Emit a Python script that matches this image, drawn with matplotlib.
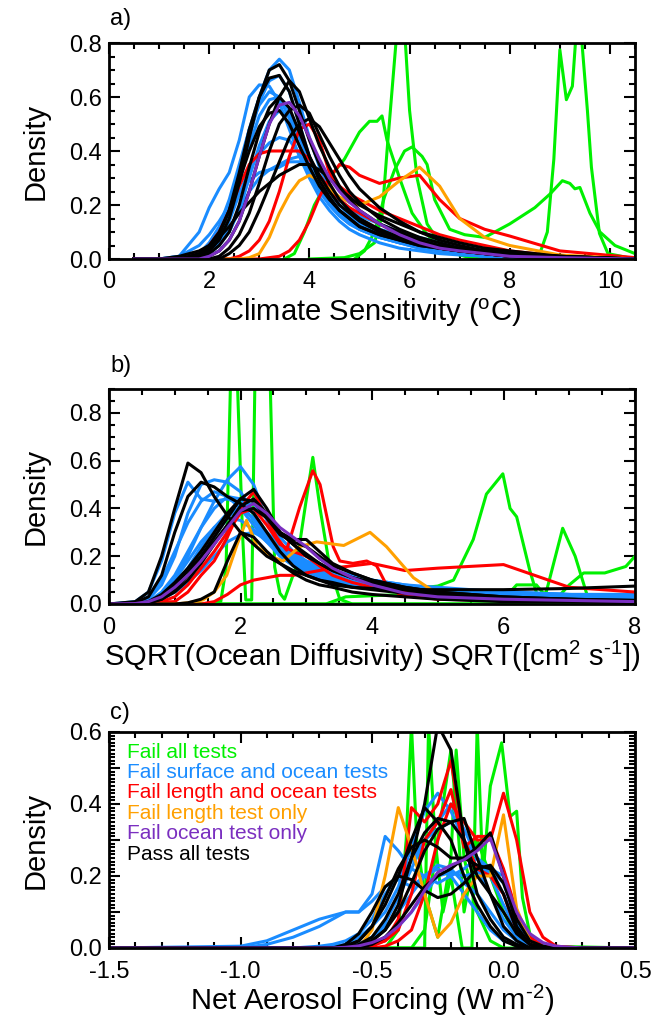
import matplotlib
matplotlib.use("Agg")
import matplotlib.pyplot as plt
from matplotlib.ticker import MultipleLocator, FuncFormatter

plt.rcParams['font.family'] = ['Liberation Sans', 'DejaVu Sans']
plt.rcParams['mathtext.fontset'] = 'custom'
plt.rcParams['mathtext.rm'] = 'Liberation Sans'
plt.rcParams['mathtext.it'] = 'Liberation Sans'
plt.rcParams['axes.unicode_minus'] = False

C_GREEN = '#00f000'
C_BLUE = '#1a8cff'
C_RED = '#ff0000'
C_ORANGE = '#ffa000'
C_PURPLE = '#7a2fc0'
C_BLACK = '#000000'

legend_labels = ['Fail all tests', 'Fail surface and ocean tests', 'Fail length and ocean tests',
                 'Fail length test only', 'Fail ocean test only', 'Pass all tests']

# ---------------- Panel a: Climate sensitivity ----------------
a_x = [0.5, 1.0, 1.4, 1.8, 2.0, 2.2, 2.4, 2.6, 2.8, 3.0, 3.2, 3.4, 3.6, 3.8, 4.0, 4.2, 4.4,
       4.6, 4.8, 5.0, 5.4, 5.8, 6.2, 6.6, 7.0, 7.5, 8.0, 9.0, 10.5]

a_green_x = [
    [3.5, 3.7, 3.9, 4.1, 4.4, 4.7, 5.0, 5.2, 5.35, 5.45, 5.55, 5.8, 6.05, 6.35, 6.7, 7.2, 10.5],
    [4.0, 4.7, 5.0, 5.3, 5.45, 5.55, 5.75, 5.9, 6.0, 6.15, 6.35, 6.6, 7.0, 7.5, 10.5],
    [4.9, 5.1, 5.3, 5.5, 5.7, 5.9, 6.05, 6.25, 6.35, 6.5, 6.8, 7.1, 7.5, 8.0, 8.5, 8.8,
     9.05, 9.2, 9.3, 9.4, 9.6, 9.8, 10.1, 10.5],
    [8.4, 8.6, 8.75, 8.88, 9.0, 9.13, 9.25, 9.33, 9.42, 9.55, 9.63, 9.79, 9.96, 10.5],
]
a_green_y = [
    [0.0, 0.02, 0.1, 0.2, 0.3, 0.37, 0.47, 0.51, 0.51, 0.53, 0.44, 0.3, 0.17, 0.09, 0.03, 0.005, 0.0],
    [0.0, 0.005, 0.02, 0.06, 0.16, 0.4, 0.85, 0.85, 0.55, 0.3, 0.13, 0.06, 0.02, 0.005, 0.0],
    [0.0, 0.03, 0.1, 0.23, 0.33, 0.4, 0.415, 0.38, 0.35, 0.22, 0.11, 0.09, 0.08, 0.13, 0.19, 0.24,
     0.29, 0.28, 0.26, 0.265, 0.17, 0.1, 0.05, 0.02],
    [0.0, 0.02, 0.1, 0.37, 0.775, 0.59, 0.64, 0.85, 0.85, 0.55, 0.34, 0.095, 0.02, 0.0],
]
a_blue = [
    [0, 0, 0.01, 0.1, 0.19, 0.26, 0.32, 0.44, 0.6, 0.645, 0.64, 0.58, 0.48, 0.38, 0.3, 0.23, 0.18, 0.14, 0.11, 0.09, 0.06, 0.04, 0.03, 0.02, 0.015, 0.01, 0.005, 0, 0],
    [0, 0, 0, 0.02, 0.05, 0.1, 0.2, 0.33, 0.48, 0.6, 0.7, 0.74, 0.7, 0.58, 0.45, 0.34, 0.26, 0.2, 0.16, 0.13, 0.09, 0.06, 0.04, 0.03, 0.02, 0.01, 0.005, 0, 0],
    [0, 0, 0, 0.01, 0.04, 0.09, 0.18, 0.3, 0.45, 0.58, 0.66, 0.68, 0.62, 0.5, 0.38, 0.29, 0.22, 0.17, 0.14, 0.11, 0.08, 0.06, 0.04, 0.03, 0.02, 0.01, 0.005, 0, 0],
    [0, 0, 0, 0.02, 0.06, 0.12, 0.22, 0.35, 0.48, 0.57, 0.62, 0.6, 0.52, 0.42, 0.33, 0.26, 0.2, 0.16, 0.13, 0.11, 0.08, 0.06, 0.05, 0.04, 0.03, 0.02, 0.01, 0.005, 0],
    [0, 0, 0, 0.01, 0.03, 0.07, 0.14, 0.24, 0.33, 0.39, 0.43, 0.45, 0.44, 0.39, 0.32, 0.25, 0.2, 0.16, 0.13, 0.11, 0.08, 0.06, 0.05, 0.04, 0.03, 0.02, 0.01, 0.005, 0],
    [0, 0, 0, 0.01, 0.03, 0.06, 0.11, 0.18, 0.25, 0.3, 0.33, 0.35, 0.37, 0.38, 0.35, 0.3, 0.25, 0.2, 0.17, 0.14, 0.11, 0.09, 0.07, 0.05, 0.04, 0.03, 0.02, 0.01, 0],
    [0, 0, 0, 0.01, 0.03, 0.08, 0.16, 0.28, 0.42, 0.53, 0.59, 0.6, 0.55, 0.46, 0.37, 0.29, 0.23, 0.18, 0.15, 0.12, 0.09, 0.07, 0.05, 0.04, 0.03, 0.02, 0.01, 0.005, 0],
    [0, 0, 0.01, 0.05, 0.09, 0.14, 0.2, 0.25, 0.29, 0.32, 0.33, 0.34, 0.36, 0.36, 0.34, 0.3, 0.26, 0.22, 0.19, 0.16, 0.13, 0.1, 0.08, 0.06, 0.04, 0.03, 0.02, 0.01, 0],
    [0, 0, 0, 0, 0.02, 0.05, 0.1, 0.18, 0.3, 0.42, 0.51, 0.55, 0.53, 0.45, 0.36, 0.28, 0.22, 0.18, 0.15, 0.13, 0.1, 0.08, 0.07, 0.05, 0.04, 0.03, 0.02, 0.01, 0],
]
a_red = [
    [0, 0, 0, 0.02, 0.05, 0.1, 0.18, 0.27, 0.35, 0.39, 0.4, 0.4, 0.4, 0.4, 0.37, 0.31, 0.26, 0.22, 0.19, 0.17, 0.13, 0.09, 0.06, 0.04, 0.03, 0.02, 0.01, 0, 0],
    [0, 0, 0, 0, 0, 0, 0, 0.01, 0.03, 0.07, 0.14, 0.25, 0.38, 0.48, 0.5, 0.44, 0.32, 0.27, 0.24, 0.22, 0.18, 0.15, 0.12, 0.09, 0.07, 0.05, 0.03, 0.01, 0],
    [0, 0, 0, 0, 0, 0, 0, 0, 0, 0, 0.005, 0.01, 0.03, 0.07, 0.14, 0.23, 0.3, 0.35, 0.34, 0.31, 0.28, 0.3, 0.31, 0.22, 0.15, 0.11, 0.085, 0.03, 0.005],
]
a_orange = [
    [0, 0, 0, 0, 0, 0, 0, 0, 0.005, 0.02, 0.08, 0.17, 0.24, 0.29, 0.31, 0.29, 0.26, 0.23, 0.21, 0.2, 0.23, 0.29, 0.34, 0.27, 0.15, 0.08, 0.05, 0.015, 0],
]
a_black = [
    [0, 0, 0, 0.01, 0.03, 0.07, 0.15, 0.28, 0.45, 0.6, 0.7, 0.72, 0.66, 0.55, 0.44, 0.35, 0.28, 0.22, 0.18, 0.15, 0.11, 0.08, 0.06, 0.04, 0.03, 0.02, 0.01, 0, 0],
    [0, 0, 0, 0.01, 0.04, 0.09, 0.18, 0.32, 0.48, 0.6, 0.67, 0.68, 0.62, 0.5, 0.38, 0.29, 0.23, 0.18, 0.15, 0.12, 0.09, 0.07, 0.05, 0.04, 0.03, 0.02, 0.01, 0, 0],
    [0, 0, 0, 0, 0.01, 0.03, 0.07, 0.14, 0.25, 0.38, 0.5, 0.6, 0.66, 0.62, 0.52, 0.42, 0.34, 0.27, 0.22, 0.18, 0.13, 0.1, 0.07, 0.05, 0.04, 0.03, 0.02, 0.01, 0],
    [0, 0, 0, 0, 0, 0.01, 0.04, 0.09, 0.17, 0.28, 0.4, 0.5, 0.55, 0.57, 0.54, 0.46, 0.38, 0.31, 0.25, 0.21, 0.15, 0.11, 0.08, 0.06, 0.04, 0.03, 0.02, 0.01, 0],
    [0, 0, 0, 0.01, 0.02, 0.05, 0.1, 0.2, 0.34, 0.47, 0.56, 0.6, 0.56, 0.47, 0.38, 0.31, 0.25, 0.2, 0.17, 0.14, 0.1, 0.08, 0.06, 0.04, 0.03, 0.02, 0.01, 0, 0],
    [0, 0, 0.01, 0.03, 0.05, 0.08, 0.12, 0.17, 0.21, 0.25, 0.28, 0.31, 0.33, 0.35, 0.35, 0.33, 0.3, 0.26, 0.23, 0.2, 0.16, 0.13, 0.1, 0.08, 0.06, 0.04, 0.03, 0.01, 0],
    [0, 0, 0, 0.02, 0.05, 0.1, 0.18, 0.29, 0.4, 0.49, 0.54, 0.55, 0.5, 0.42, 0.34, 0.27, 0.22, 0.18, 0.15, 0.12, 0.09, 0.07, 0.05, 0.04, 0.03, 0.02, 0.01, 0, 0],
    [0, 0, 0, 0, 0, 0, 0.02, 0.05, 0.1, 0.18, 0.27, 0.36, 0.45, 0.5, 0.52, 0.49, 0.43, 0.37, 0.31, 0.26, 0.19, 0.14, 0.1, 0.07, 0.05, 0.03, 0.02, 0.01, 0],
]
a_purple = [
    [0, 0, 0, 0, 0.01, 0.03, 0.07, 0.14, 0.25, 0.38, 0.5, 0.57, 0.58, 0.53, 0.45, 0.37, 0.3, 0.25, 0.21, 0.18, 0.13, 0.09, 0.06, 0.04, 0.03, 0.02, 0.01, 0.005, 0],
]

# ---------------- Panel b: ocean diffusivity ----------------
b_x = [0, 0.4, 0.6, 0.8, 1.0, 1.2, 1.4, 1.6, 1.8, 2.0, 2.2, 2.4, 2.6, 2.8, 3.0, 3.2, 3.4,
       3.7, 4.0, 4.5, 5.0, 6.0, 7.0, 8.0]

b_green_x = [
    [0, 1.5, 1.7, 1.78, 1.85, 1.95, 2.03, 2.08, 2.17, 2.22, 2.3, 2.34, 2.45, 2.52, 2.6, 2.67,
     2.85, 2.98, 3.1, 3.21, 3.36, 3.51, 3.7, 8.0],
    [0, 3.3, 3.6, 4.5, 4.83, 5.0, 5.24, 5.54, 5.74, 5.99, 6.1, 6.2, 6.4, 6.52, 6.65, 6.9, 7.09,
     7.28, 7.5, 8.0],
    [0, 5.9, 6.1, 6.2, 6.5, 6.65, 6.8, 7.0, 7.22, 7.54, 7.86, 8.0],
]
b_green_y = [
    [0, 0, 0.01, 0.15, 0.95, 0.95, 0.3, 0.017, 0.017, 0.95, 0.95, 0.95, 0.95, 0.155, 0.045, 0.02,
     0.16, 0.4, 0.614, 0.4, 0.15, 0.02, 0.0, 0.0],
    [0, 0, 0.03, 0.04, 0.07, 0.075, 0.1, 0.27, 0.46, 0.545, 0.4, 0.365, 0.14, 0.03, 0.05, 0.317, 0.2,
     0.03, 0.0, 0.0],
    [0, 0, 0.05, 0.08, 0.08, 0.03, 0.02, 0.08, 0.13, 0.13, 0.157, 0.2],
]
b_blue = [
    [0, 0.01, 0.05, 0.18, 0.38, 0.51, 0.44, 0.43, 0.44, 0.42, 0.35, 0.27, 0.21, 0.17, 0.14, 0.12, 0.1, 0.08, 0.07, 0.05, 0.04, 0.03, 0.02, 0.02],
    [0, 0.005, 0.02, 0.08, 0.2, 0.38, 0.5, 0.52, 0.51, 0.47, 0.38, 0.28, 0.21, 0.17, 0.14, 0.12, 0.1, 0.09, 0.08, 0.06, 0.05, 0.04, 0.03, 0.03],
    [0, 0, 0.01, 0.04, 0.1, 0.2, 0.32, 0.43, 0.52, 0.575, 0.5, 0.35, 0.24, 0.18, 0.15, 0.13, 0.11, 0.09, 0.08, 0.06, 0.05, 0.04, 0.03, 0.03],
    [0, 0, 0.01, 0.05, 0.12, 0.22, 0.32, 0.4, 0.45, 0.44, 0.38, 0.3, 0.24, 0.2, 0.17, 0.14, 0.12, 0.1, 0.08, 0.06, 0.05, 0.04, 0.03, 0.02],
    [0, 0, 0.005, 0.02, 0.06, 0.12, 0.2, 0.28, 0.36, 0.41, 0.42, 0.36, 0.28, 0.22, 0.18, 0.15, 0.13, 0.11, 0.09, 0.07, 0.06, 0.04, 0.03, 0.03],
    [0, 0, 0.005, 0.02, 0.05, 0.09, 0.14, 0.2, 0.26, 0.29, 0.3, 0.27, 0.23, 0.19, 0.16, 0.14, 0.12, 0.1, 0.09, 0.07, 0.06, 0.05, 0.04, 0.03],
    [0, 0.005, 0.03, 0.1, 0.22, 0.34, 0.43, 0.47, 0.45, 0.4, 0.33, 0.26, 0.2, 0.16, 0.13, 0.11, 0.09, 0.08, 0.07, 0.05, 0.04, 0.03, 0.02, 0.02],
    [0, 0, 0.005, 0.03, 0.08, 0.15, 0.24, 0.32, 0.38, 0.4, 0.36, 0.3, 0.25, 0.21, 0.18, 0.16, 0.14, 0.12, 0.1, 0.08, 0.06, 0.05, 0.04, 0.04],
    [0, 0, 0.01, 0.04, 0.1, 0.18, 0.26, 0.32, 0.36, 0.35, 0.31, 0.26, 0.22, 0.19, 0.17, 0.15, 0.13, 0.11, 0.1, 0.08, 0.07, 0.05, 0.04, 0.04],
]
b_red_x = [
    [0, 1.0, 1.2, 1.4, 1.6, 1.8, 2.0, 2.2, 2.4, 2.55, 2.7, 2.9, 3.1, 3.21, 3.41, 3.51, 3.71, 3.92,
     4.07, 4.22, 4.42, 5.0, 6.0, 8.0],
    b_x,
    b_x,
]
b_red_y = [
    [0, 0.01, 0.05, 0.12, 0.18, 0.28, 0.4, 0.47, 0.36, 0.28, 0.225, 0.405, 0.558, 0.5, 0.24, 0.18,
     0.17, 0.18, 0.16, 0.08, 0.04, 0.02, 0.015, 0.01],
    [0, 0, 0, 0, 0, 0, 0, 0.01, 0.04, 0.08, 0.1, 0.11, 0.12, 0.12, 0.13, 0.14, 0.15, 0.16, 0.17, 0.14, 0.15, 0.165, 0.07, 0.05],
    [0, 0, 0, 0.01, 0.03, 0.08, 0.15, 0.22, 0.3, 0.38, 0.4, 0.33, 0.25, 0.22, 0.2, 0.16, 0.12, 0.09, 0.07, 0.05, 0.03, 0.02, 0.015, 0.01],
]
b_orange_x = [[0, 1.0, 1.2, 1.43, 1.6, 1.79, 1.95, 2.09, 2.25, 2.45, 2.65, 2.9, 3.16, 3.57, 3.97,
               4.22, 4.63, 4.98, 5.5, 6.0, 8.0]]
b_orange_y = [[0, 0.0, 0.005, 0.017, 0.05, 0.12, 0.25, 0.35, 0.24, 0.2, 0.18, 0.24, 0.26, 0.245,
               0.3, 0.24, 0.11, 0.045, 0.02, 0.015, 0.01]]
b_black = [
    [0, 0.01, 0.05, 0.2, 0.4, 0.59, 0.55, 0.45, 0.37, 0.3, 0.25, 0.2, 0.17, 0.14, 0.12, 0.1, 0.09, 0.07, 0.06, 0.045, 0.035, 0.025, 0.02, 0.015],
    [0, 0.005, 0.03, 0.12, 0.3, 0.45, 0.51, 0.49, 0.45, 0.42, 0.38, 0.3, 0.22, 0.16, 0.12, 0.1, 0.08, 0.07, 0.065, 0.06, 0.06, 0.06, 0.065, 0.075],
    [0, 0, 0.005, 0.02, 0.06, 0.12, 0.2, 0.28, 0.36, 0.44, 0.48, 0.4, 0.3, 0.27, 0.27, 0.22, 0.17, 0.13, 0.1, 0.07, 0.05, 0.03, 0.02, 0.015],
    [0, 0, 0.005, 0.02, 0.05, 0.1, 0.17, 0.25, 0.33, 0.41, 0.44, 0.38, 0.3, 0.25, 0.21, 0.17, 0.14, 0.11, 0.09, 0.06, 0.04, 0.02, 0.015, 0.01],
    [0, 0, 0.005, 0.03, 0.08, 0.14, 0.2, 0.26, 0.33, 0.39, 0.4, 0.36, 0.3, 0.25, 0.2, 0.17, 0.14, 0.11, 0.09, 0.06, 0.04, 0.02, 0.015, 0.01],
    [0, 0, 0, 0, 0, 0.005, 0.02, 0.05, 0.18, 0.3, 0.28, 0.22, 0.17, 0.13, 0.1, 0.08, 0.07, 0.05, 0.04, 0.03, 0.02, 0.01, 0.01, 0.005],
    [0, 0, 0.01, 0.04, 0.09, 0.15, 0.22, 0.3, 0.38, 0.44, 0.43, 0.36, 0.29, 0.26, 0.24, 0.2, 0.16, 0.13, 0.1, 0.07, 0.05, 0.03, 0.02, 0.01],
]
b_purple = [
    [0, 0.002, 0.01, 0.03, 0.07, 0.12, 0.18, 0.25, 0.32, 0.39, 0.42, 0.38, 0.32, 0.28, 0.24, 0.19, 0.15, 0.11, 0.08, 0.045, 0.03, 0.02, 0.015, 0.01],
]

# ---------------- Panel c: net aerosol forcing ----------------
c_x = [-1.5, -1.0, -0.9, -0.8, -0.7, -0.65, -0.6, -0.55, -0.5, -0.45, -0.4, -0.35, -0.3, -0.25,
       -0.2, -0.15, -0.1, -0.05, 0.0, 0.05, 0.1, 0.15, 0.2, 0.3, 0.5]

c_green_x = [
    [-1.5, -0.45, -0.4, -0.37, -0.35, -0.33, -0.3, -0.25, -0.2, -0.18, -0.15, -0.1, -0.05, 0.0, 0.5],
    [-1.5, -0.3, -0.285, -0.26, -0.23, -0.2, -0.157, -0.12, -0.1, -0.078, -0.05, -0.007, 0.025,
     0.05, 0.072, 0.1, 0.15, 0.5],
    [-1.5, -0.35, -0.3, -0.25, -0.2, -0.17, -0.15, -0.1, -0.05, 0.0, 0.05, 0.1, 0.5],
]
c_green_y = [
    [0, 0, 0.05, 0.3, 0.62, 0.3, 0.15, 0.03, 0.25, 0.55, 0.25, 0.1, 0.02, 0, 0],
    [0, 0, 0.62, 0.3, 0.1, 0.2, 0.0, 0.0, 0.62, 0.2, 0.45, 0.57, 0.365, 0.38, 0.14, 0.04, 0.005, 0],
    [0, 0, 0.05, 0.3, 0.55, 0.3, 0.1, 0.3, 0.2, 0.1, 0.03, 0, 0],
]
c_blue = [
    [0, 0, 0.01, 0.03, 0.06, 0.08, 0.1, 0.1, 0.15, 0.31, 0.27, 0.22, 0.2, 0.18, 0.2, 0.15, 0.1, 0.05, 0.02, 0.01, 0, 0, 0, 0, 0],
    [0, 0.005, 0.02, 0.05, 0.08, 0.09, 0.1, 0.1, 0.13, 0.17, 0.19, 0.17, 0.2, 0.23, 0.22, 0.18, 0.15, 0.1, 0.05, 0.02, 0.01, 0, 0, 0, 0],
    [0, 0, 0, 0, 0, 0.005, 0.01, 0.03, 0.06, 0.1, 0.17, 0.28, 0.38, 0.43, 0.38, 0.3, 0.22, 0.15, 0.08, 0.03, 0.01, 0, 0, 0, 0],
    [0, 0, 0, 0, 0, 0, 0.005, 0.01, 0.03, 0.07, 0.14, 0.22, 0.3, 0.35, 0.4, 0.33, 0.25, 0.2, 0.12, 0.05, 0.02, 0.005, 0, 0, 0],
    [0, 0, 0, 0, 0, 0, 0, 0.005, 0.01, 0.03, 0.06, 0.1, 0.15, 0.2, 0.21, 0.2, 0.21, 0.22, 0.2, 0.1, 0.03, 0.01, 0, 0, 0],
    [0, 0, 0, 0, 0.005, 0.01, 0.02, 0.04, 0.08, 0.15, 0.2, 0.24, 0.3, 0.33, 0.35, 0.3, 0.25, 0.2, 0.15, 0.07, 0.02, 0.005, 0, 0, 0],
    [0, 0, 0, 0, 0, 0, 0.005, 0.01, 0.03, 0.06, 0.1, 0.15, 0.2, 0.22, 0.2, 0.22, 0.25, 0.22, 0.18, 0.08, 0.02, 0.005, 0, 0, 0],
]
c_red = [
    [0, 0, 0, 0, 0, 0, 0, 0, 0.005, 0.02, 0.08, 0.39, 0.35, 0.4, 0.52, 0.3, 0.22, 0.2, 0.15, 0.05, 0.01, 0, 0, 0, 0],
    [0, 0, 0, 0, 0, 0, 0, 0, 0, 0.005, 0.02, 0.05, 0.15, 0.3, 0.4, 0.35, 0.3, 0.3, 0.43, 0.3, 0.1, 0.03, 0.005, 0, 0],
    [0, 0, 0, 0, 0, 0, 0, 0, 0.01, 0.02, 0.05, 0.15, 0.3, 0.35, 0.44, 0.28, 0.31, 0.31, 0.22, 0.1, 0.03, 0.005, 0, 0, 0],
]
c_orange = [
    [0, 0, 0, 0, 0, 0, 0, 0, 0.05, 0.2, 0.39, 0.28, 0.15, 0.03, 0.07, 0.15, 0.2, 0.2, 0.37, 0.11, 0.02, 0, 0, 0, 0],
]
c_black = [
    [0, 0, 0, 0, 0, 0, 0, 0.005, 0.02, 0.05, 0.12, 0.25, 0.4, 0.62, 0.55, 0.3, 0.15, 0.08, 0.03, 0.01, 0, 0, 0, 0, 0],
    [0, 0, 0, 0, 0, 0, 0.005, 0.02, 0.06, 0.12, 0.2, 0.3, 0.39, 0.35, 0.3, 0.2, 0.12, 0.06, 0.02, 0.005, 0, 0, 0, 0, 0],
    [0, 0, 0, 0, 0, 0, 0, 0.01, 0.03, 0.08, 0.15, 0.25, 0.32, 0.36, 0.35, 0.36, 0.25, 0.15, 0.06, 0.02, 0, 0, 0, 0, 0],
    [0, 0, 0, 0, 0, 0, 0.01, 0.04, 0.1, 0.17, 0.2, 0.19, 0.16, 0.14, 0.15, 0.18, 0.22, 0.23, 0.18, 0.08, 0.02, 0.005, 0, 0, 0],
    [0, 0, 0, 0, 0, 0, 0, 0.005, 0.02, 0.05, 0.1, 0.18, 0.27, 0.33, 0.35, 0.3, 0.2, 0.15, 0.1, 0.04, 0.01, 0, 0, 0, 0],
    [0, 0, 0, 0, 0, 0, 0.005, 0.02, 0.06, 0.14, 0.22, 0.28, 0.3, 0.28, 0.25, 0.25, 0.23, 0.22, 0.15, 0.05, 0.01, 0, 0, 0, 0],
    [0, 0, 0, 0, 0, 0, 0, 0, 0.01, 0.03, 0.07, 0.12, 0.17, 0.2, 0.22, 0.25, 0.28, 0.32, 0.2, 0.06, 0.01, 0, 0, 0, 0],
]
c_purple = [
    [0, 0, 0, 0, 0, 0, 0.002, 0.006, 0.015, 0.03, 0.06, 0.1, 0.16, 0.21, 0.23, 0.245, 0.27, 0.305, 0.2, 0.1, 0.04, 0.015, 0.005, 0, 0],
]

LW = 2.2
W, H = 652, 1019
fig = plt.figure(figsize=(W / 100, H / 100), dpi=100)


def axes_px(left, top, right, bottom):
    return fig.add_axes([left / W, 1 - bottom / H, (right - left) / W, (bottom - top) / H])


def style(ax, xmaj, xmin, ymaj, ymin):
    ax.xaxis.set_major_locator(MultipleLocator(xmaj))
    ax.xaxis.set_minor_locator(MultipleLocator(xmin))
    ax.yaxis.set_major_locator(MultipleLocator(ymaj))
    ax.yaxis.set_minor_locator(MultipleLocator(ymin))
    ax.tick_params(which='both', direction='in', top=True, right=True, width=1.5)
    ax.tick_params(which='major', length=8, labelsize=17)
    ax.tick_params(which='minor', length=4)
    ax.tick_params(axis='x', pad=9)
    ax.tick_params(axis='y', pad=5)
    for s in ax.spines.values():
        s.set_linewidth(2.0)
    ax.set_ylabel('Density', fontsize=21, labelpad=14)


def draw(ax, grid, green_x, green_y, blue, red_x, red_y, orange_x, orange_y, black, purple):
    for xs, ys in zip(green_x, green_y):
        ax.plot(xs, ys, color=C_GREEN, lw=LW)
    for ys in blue:
        ax.plot(grid, ys, color=C_BLUE, lw=LW)
    for xs, ys in zip(red_x, red_y):
        ax.plot(xs, ys, color=C_RED, lw=LW)
    for xs, ys in zip(orange_x, orange_y):
        ax.plot(xs, ys, color=C_ORANGE, lw=LW)
    for ys in black:
        ax.plot(grid, ys, color=C_BLACK, lw=LW)
    for ys in purple:
        ax.plot(grid, ys, color=C_PURPLE, lw=LW)


# Panel a
ax1 = axes_px(109, 43, 635, 259)
draw(ax1, a_x, a_green_x, a_green_y, a_blue, [a_x] * len(a_red), a_red,
     [a_x] * len(a_orange), a_orange, a_black, a_purple)
ax1.set_xlim(0, 10.5)
ax1.set_ylim(0, 0.8)
style(ax1, 2, 0.5, 0.2, 0.05)
ax1.xaxis.set_major_formatter(FuncFormatter(lambda v, p: '%d' % round(v)))
ax1.yaxis.set_major_formatter(FuncFormatter(lambda v, p: '%.1f' % v))
ax1.set_xlabel(r'Climate Sensitivity ($^{\rm o}$C)', fontsize=21, labelpad=2)
fig.text(110 / W, 1 - 19 / H, 'a)', fontsize=17, va='center', ha='left')

# Panel b
ax2 = axes_px(109, 389, 635, 604)
draw(ax2, b_x, b_green_x, b_green_y, b_blue, b_red_x, b_red_y, b_orange_x, b_orange_y,
     b_black, b_purple)
ax2.set_xlim(0, 8)
ax2.set_ylim(0, 0.9)
style(ax2, 2, 0.5, 0.2, 0.05)
ax2.xaxis.set_major_formatter(FuncFormatter(lambda v, p: '%d' % round(v)))
ax2.yaxis.set_major_formatter(FuncFormatter(lambda v, p: '%.1f' % v))
ax2.set_xlabel(r'SQRT(Ocean Diffusivity) SQRT([cm$^2$ s$^{\text{-}1}$])', fontsize=21, labelpad=0)
fig.text(110 / W, 1 - 366 / H, 'b)', fontsize=17, va='center', ha='left')

# Panel c
ax3 = axes_px(109, 732, 635, 948)
draw(ax3, c_x, c_green_x, c_green_y, c_blue, [c_x] * len(c_red), c_red,
     [c_x] * len(c_orange), c_orange, c_black, c_purple)
ax3.set_xlim(-1.5, 0.5)
ax3.set_ylim(0, 0.6)
style(ax3, 0.5, 0.1, 0.1, 0.01)
ax3.xaxis.set_major_formatter(FuncFormatter(lambda v, p: '%.1f' % v))
ax3.yaxis.set_major_formatter(
    FuncFormatter(lambda v, p: ('%.1f' % v) if round(v * 10) % 2 == 0 else ''))
ax3.set_xlabel(r'Net Aerosol Forcing (W m$^{\text{-}2}$)', fontsize=21, labelpad=0)
fig.text(110 / W, 1 - 713 / H, 'c)', fontsize=17, va='center', ha='left')

leg_colors = [C_GREEN, C_BLUE, C_RED, C_ORANGE, C_PURPLE, C_BLACK]
for i, (lab, col) in enumerate(zip(legend_labels, leg_colors)):
    ax3.text(127 / W, 1 - (752 + 20.4 * i) / H, lab, color=col, fontsize=15,
             va='center', ha='left', transform=fig.transFigure)

fig.savefig('out.png', dpi=100)
